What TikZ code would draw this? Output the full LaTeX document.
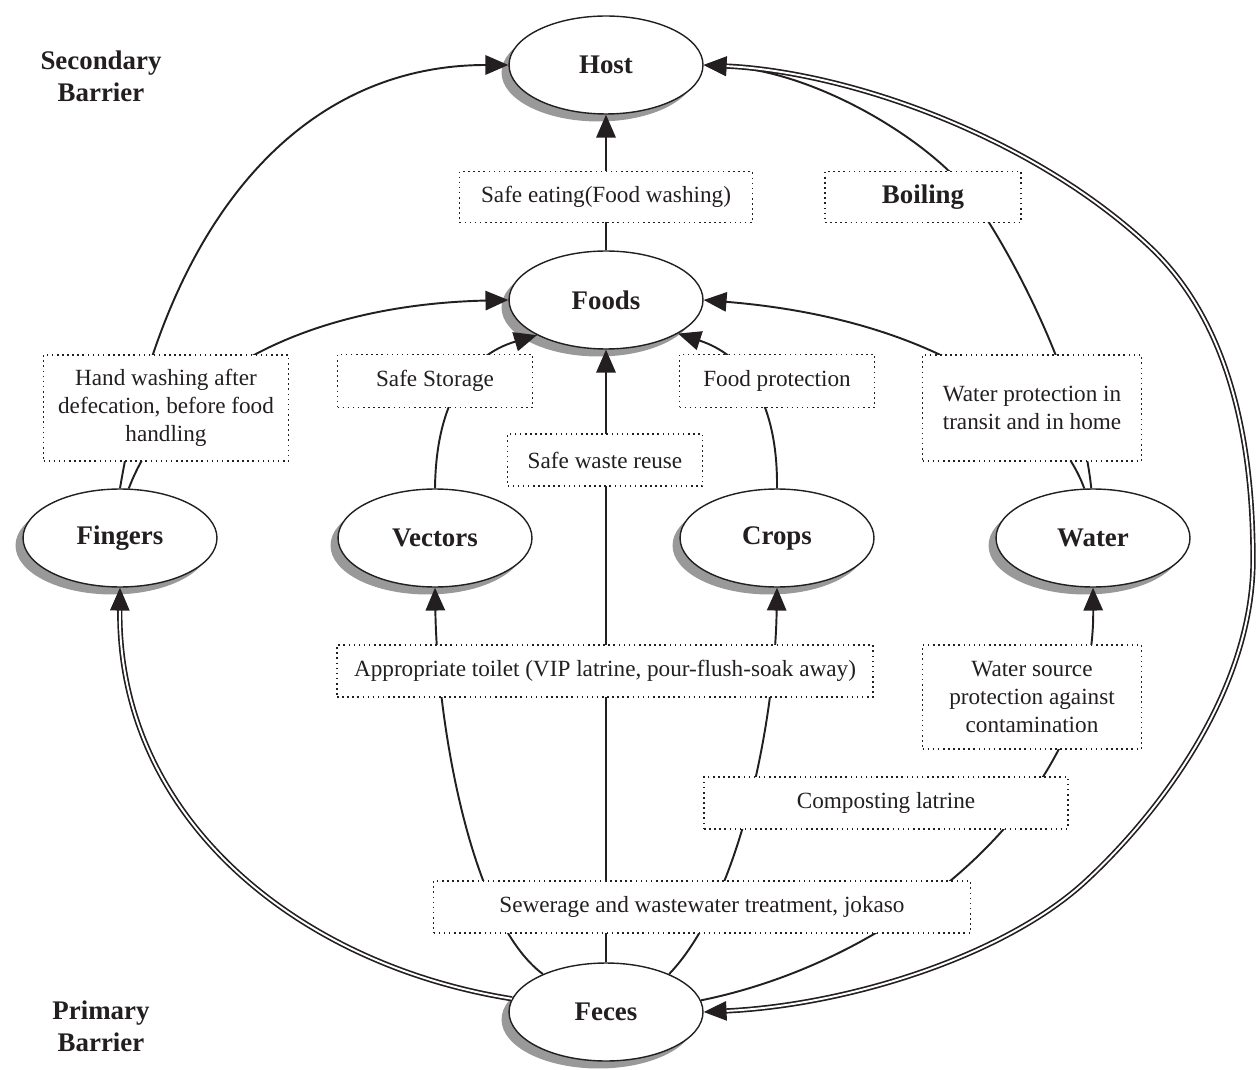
\documentclass[tikz,border=0pt]{standalone}
\usepackage{fontspec}
\setmainfont{Liberation Serif}
\usetikzlibrary{arrows.meta,shapes.geometric,shadows}
\definecolor{ink}{HTML}{231F20}
\begin{document}
\begin{tikzpicture}[x=0.02cm,y=-0.02cm,
  ell/.style={ellipse,draw=ink,line width=0.8pt,fill=white,minimum width=3.88cm,minimum height=1.96cm,inner sep=0pt,
    font=\fontsize{15.3}{18}\selectfont\bfseries,text=ink,
    drop shadow={shadow xshift=-0.15cm,shadow yshift=-0.15cm,fill=black!40,opacity=1}},
  lbl/.style={draw=ink,dotted,line width=0.9pt,fill=white,inner sep=0pt,align=center,text=ink,
    font=\fontsize{13.2}{15.9}\selectfont},
  conn/.style={draw=ink,line width=1.1pt},
  tip/.style={-{Triangle[length=13pt,width=11pt]}},
  arr/.style={conn,tip},
  dbl/.style={draw=ink,line width=0.95pt,double=white,double distance=1.1pt},
  ttl/.style={align=center,text=ink,font=\fontsize{15.3}{18}\selectfont\bfseries}
]
\useasboundingbox (0,0) rectangle (1256,1070);

% ellipses
\node[ell] (host) at (606,65) {Host};
\node[ell] (foods) at (606,300) {Foods};
\node[ell] (fingers) at (120,538) {Fingers};
\node[ell] (vectors) at (435,538) {Vectors};
\node[ell] (crops) at (777,538) {Crops};
\node[ell] (water) at (1093,538) {Water};
\node[ell] (feces) at (606,1012) {Feces};

% titles
\node[ttl] (sec) at (101,76) {Secondary\\Barrier};
\node[ttl] (pri) at (101,1026) {Primary\\Barrier};

\coordinate (bw) at (972,197);

% connectors
\draw[arr] (foods.north) -- (host.south);
\draw[arr] (feces.north) -- (foods.south);
\draw[arr] (fingers.north) .. controls (165,220) and (300,65) .. (host.west);
\draw[arr] (fingers.80) .. controls (170,380) and (300,305) .. (foods.west);
\draw[arr] (vectors.north) .. controls (436,400) and (470,355) .. (foods.207);
\draw[arr] (crops.north) .. controls (778,400) and (744,355) .. (foods.335);
\draw[arr] (water.100) .. controls (1060,420) and (950,320) .. (foods.east);
\draw[arr] (water.92) .. controls (1080,380) and (1010,250) .. (bw) .. controls (934,144) and (820,72) .. (host.east);
\draw[arr] (feces.149) .. controls (470,920) and (437,720) .. (vectors.south);
\draw[arr] (feces.31) .. controls (740,900) and (775,720) .. (crops.south);
\draw[arr] (feces.7) .. controls (900,960) and (1095,800) .. (water.south);
\draw[dbl,tip] (feces.172) .. controls (300,965) and (118,820) .. (fingers.south);
\draw[dbl,{Triangle[length=13pt,width=11pt]}-{Triangle[length=13pt,width=11pt]}]
  (host.east) .. controls (850,72) and (1033,137) .. (1150,247)
  .. controls (1225,318) and (1253,430) .. (1253,560)
  .. controls (1253,690) and (1160,812) .. (1087,880)
  .. controls (1007,955) and (850,1005) .. (feces.east);

% label boxes
\node[lbl,minimum width=5.86cm,minimum height=1.02cm] (safeeat) at (606,197) {Safe eating(Food washing)};
\node[lbl,minimum width=3.92cm,minimum height=1.02cm,font=\fontsize{15.3}{18}\selectfont\bfseries] (boil) at (923,197) {Boiling};
\node[lbl,minimum width=4.9cm,minimum height=2.12cm] (hand) at (166,408) {Hand washing after\\defecation, before food\\handling};
\node[lbl,minimum width=3.9cm,minimum height=1.06cm] (store) at (435,381) {Safe Storage};
\node[lbl,minimum width=3.9cm,minimum height=1.06cm] (fprot) at (777,381) {Food protection};
\node[lbl,minimum width=4.38cm,minimum height=2.12cm] (wprot) at (1032,408) {Water protection in\\transit and in home};
\node[lbl,minimum width=3.9cm,minimum height=1.04cm] (reuse) at (605,460) {Safe waste reuse};
\node[lbl,minimum width=10.72cm,minimum height=1.04cm] (toilet) at (605,671) {Appropriate toilet (VIP latrine, pour-flush-soak away)};
\node[lbl,minimum width=4.38cm,minimum height=2.08cm] (wsrc) at (1032,697) {Water source\\protection against\\contamination};
\node[lbl,minimum width=7.28cm,minimum height=1.04cm] (compost) at (886,803) {Composting latrine};
\node[lbl,minimum width=10.74cm,minimum height=1.04cm] (sewer) at (702,907) {Sewerage and wastewater treatment, jokaso};
\end{tikzpicture}
\end{document}
